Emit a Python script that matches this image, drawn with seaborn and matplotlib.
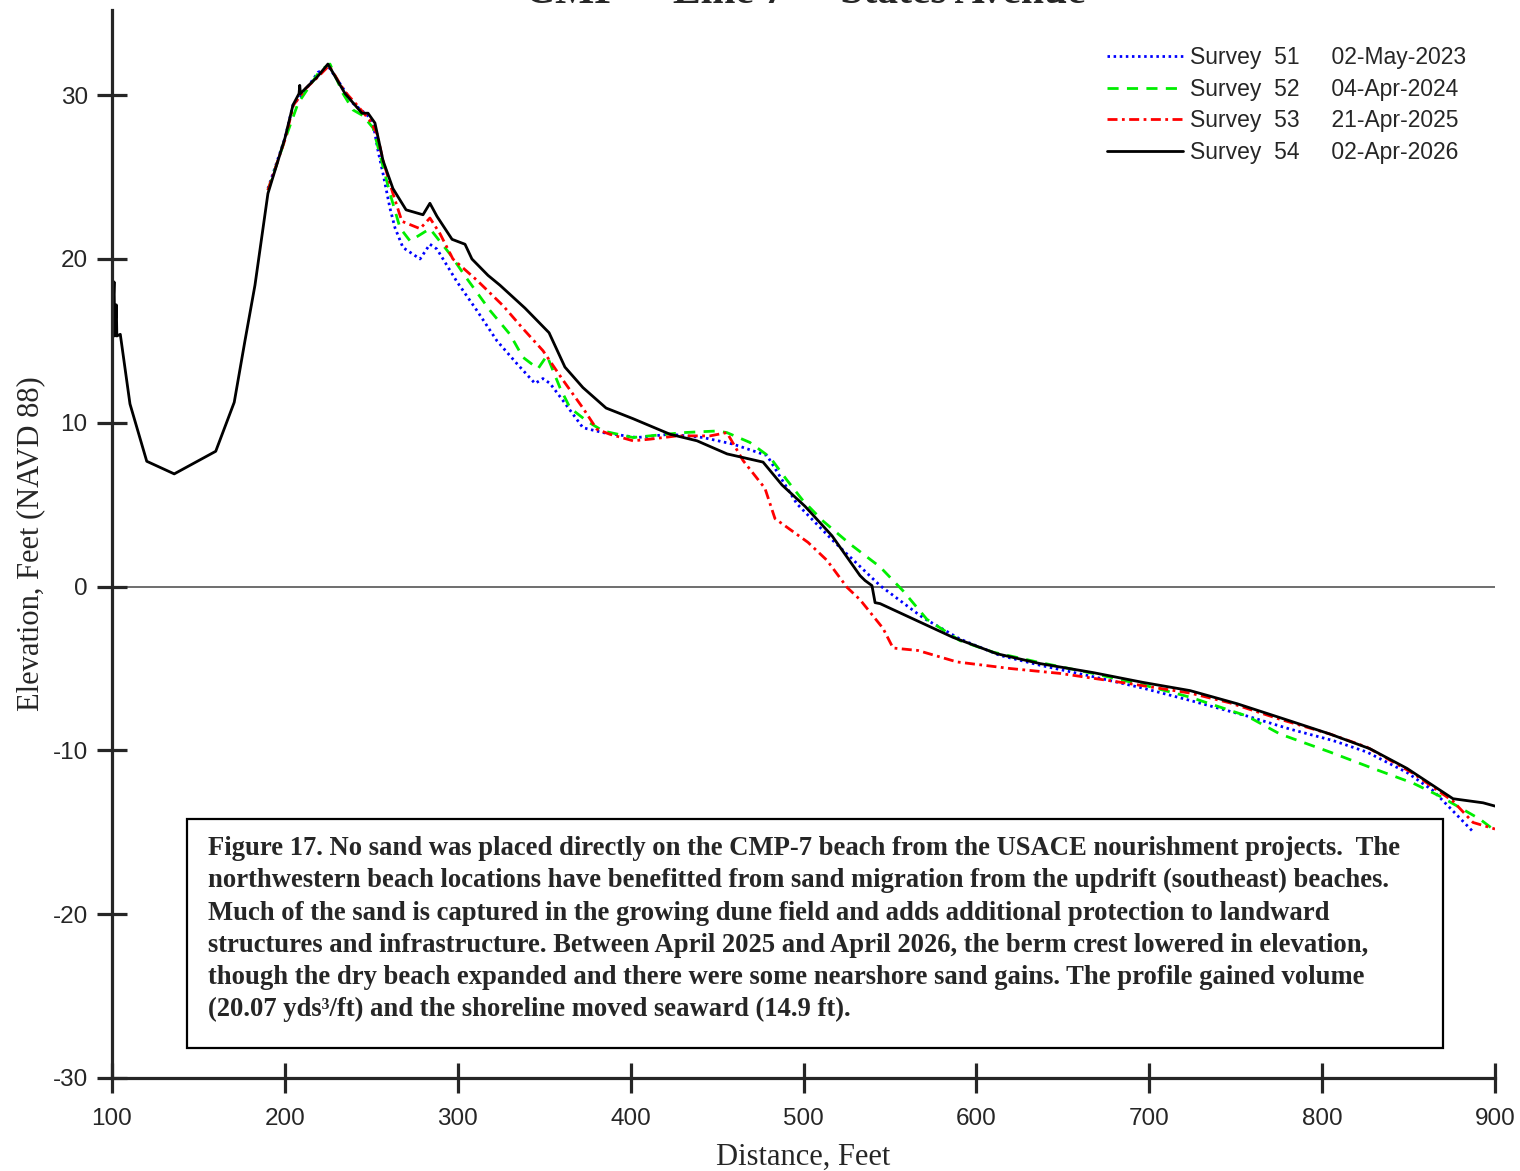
import numpy as np
import pandas as pd
import matplotlib
matplotlib.use("Agg")
import matplotlib.pyplot as plt
import seaborn as sns
from matplotlib.patches import Rectangle

# ---------------- data ----------------
labels = ["Survey  51     02-May-2023", "Survey  52     04-Apr-2024",
          "Survey  53     21-Apr-2025", "Survey  54     02-Apr-2026"]

s51_x = [190.2, 200.1, 204.7, 210.5, 219.2, 225.5, 231.9, 239.4, 247.5, 251.0, 253.9, 256.8,
         260.8, 263.7, 268.3, 278.2, 283.9, 288.0, 299.6, 311.1, 322.7, 334.3, 344.7, 349.3,
         353.4, 360.9, 372.4, 384.0, 403.7, 422.8, 441.9, 459.2, 478.9, 496.2, 517.1, 544.3,
         569.1, 590.5, 613.6, 636.8, 667.5, 696.4, 723.6, 756.5, 781.4, 806.3, 825.9, 849.1,
         864.1, 875.7, 886.7]
s51_y = [24.3, 27.4, 29.4, 30.1, 31.4, 31.7, 30.7, 29.5, 28.8, 28.3, 26.6, 25.2,
         23.1, 21.9, 20.7, 20.0, 20.9, 20.6, 18.6, 16.85, 15.0, 13.6, 12.4, 12.7,
         12.4, 11.35, 9.7, 9.4, 9.1, 9.3, 9.1, 8.7, 8.0, 5.05, 2.8, 0.06,
         -1.9, -3.2, -4.2, -4.8, -5.5, -6.2, -6.95, -7.9, -8.7, -9.4, -10.1, -11.35,
         -12.45, -13.7, -14.9]

s52_x = [190.2, 200.1, 207.6, 220.3, 226.1, 233.6, 239.4, 245.2, 251.0, 260.8, 266.6, 272.4,
         283.9, 295.5, 305.3, 318.7, 330.2, 337.7, 346.4, 351.6, 359.1, 365.0, 374.8, 384.0,
         401.4, 430.3, 450.0, 455.7, 469.0, 480.6, 490.4, 499.7, 511.3, 526.9, 544.3, 557.5,
         571.4, 590.5, 609.6, 635.1, 667.5, 696.4, 723.6, 756.5, 775.6, 804.5, 829.4, 852.6,
         868.2, 879.8, 891.3, 900.0]
s52_y = [24.2, 27.3, 29.5, 31.5, 31.9, 30.1, 29.1, 28.75, 28.0, 24.0, 21.9, 21.1,
         21.85, 20.3, 18.8, 16.85, 15.4, 14.0, 13.3, 14.1, 12.15, 10.9, 10.1, 9.5,
         9.1, 9.4, 9.5, 9.4, 8.8, 7.9, 6.5, 5.25, 4.0, 2.6, 1.2, -0.25,
         -2.0, -3.3, -4.0, -4.6, -5.3, -6.0, -6.75, -7.9, -9.0, -10.1, -11.1, -12.0,
         -12.8, -13.5, -14.2, -14.9]

s53_x = [190.2, 200.1, 205.0, 212.0, 219.0, 225.5, 234.8, 241.7, 249.2, 253.3, 256.8, 262.5,
         267.7, 278.2, 283.9, 289.7, 297.2, 311.1, 326.2, 337.7, 349.3, 360.9, 372.4, 380.5,
         388.0, 401.4, 411.2, 426.8, 445.9, 455.7, 465.0, 477.7, 483.5, 502.6, 513.6, 525.2,
         532.7, 546.0, 551.8, 566.2, 588.8, 619.4, 648.4, 687.1, 723.6, 746.7, 775.6, 804.5,
         825.9, 852.6, 875.7, 887.3, 900.0]
s53_y = [24.2, 27.3, 29.4, 30.4, 31.1, 31.8, 30.2, 29.4, 28.45, 27.65, 26.0, 24.0,
         22.3, 21.85, 22.5, 21.55, 20.0, 18.7, 17.15, 15.75, 14.4, 12.6, 10.9, 9.6,
         9.3, 8.9, 9.0, 9.2, 9.2, 9.4, 7.7, 6.0, 4.15, 2.7, 1.6, -0.05,
         -0.8, -2.55, -3.75, -3.9, -4.6, -5.0, -5.3, -5.9, -6.5, -7.1, -8.1, -9.0,
         -9.8, -11.4, -13.1, -14.4, -14.8]

s54_x = [100.0, 101.2, 101.6, 102.5, 102.8, 104.8, 110.4, 120.1, 136.0, 160.0, 170.7, 176.9,
         182.7, 190.2, 193.1, 200.1, 204.7, 208.2, 208.6, 209.0, 212.8, 218.6, 224.9, 234.8,
         244.6, 248.1, 252.1, 256.8, 262.5, 270.1, 279.9, 283.9, 288.0, 296.7, 304.2, 308.2,
         317.5, 324.4, 338.9, 352.8, 362.0, 372.4, 385.8, 401.4, 422.8, 438.4, 455.8, 476.6,
         487.6, 500.9, 516.5, 532.7, 535.6, 539.6, 541.4, 544.3, 586.5, 611.9, 636.8, 667.5,
         696.4, 723.6, 750.8, 781.4, 804.5, 827.7, 849.1, 875.7, 893.1, 900.0]
s54_y = [15.2, 18.6, 15.3, 17.2, 15.3, 15.4, 11.15, 7.65, 6.88, 8.26, 11.25, 15.0,
         18.4, 24.0, 25.0, 27.4, 29.4, 30.1, 30.6, 30.1, 30.5, 31.1, 31.9, 30.1,
         28.9, 28.9, 28.3, 26.0, 24.3, 23.0, 22.7, 23.4, 22.6, 21.2, 20.9, 20.0,
         19.0, 18.4, 17.0, 15.5, 13.4, 12.15, 10.9, 10.25, 9.3, 8.9, 8.1, 7.6,
         6.2, 4.9, 3.1, 0.67, 0.37, 0.06, -0.98, -1.04, -3.1, -4.1, -4.7, -5.25,
         -5.85, -6.35, -7.15, -8.2, -9.0, -9.9, -11.1, -12.95, -13.2, -13.4]

x_ticks = [100, 200, 300, 400, 500, 600, 700, 800, 900]
y_ticks = [-30, -20, -10, 0, 10, 20, 30]

caption = ("Figure 17. No sand was placed directly on the CMP-7 beach from the USACE nourishment projects.  The\n"
           "northwestern beach locations have benefitted from sand migration from the updrift (southeast) beaches.\n"
           "Much of the sand is captured in the growing dune field and adds additional protection to landward\n"
           "structures and infrastructure. Between April 2025 and April 2026, the berm crest lowered in elevation,\n"
           "though the dry beach expanded and there were some nearshore sand gains. The profile gained volume\n"
           "(20.07 yds\u00b3/ft) and the shoreline moved seaward (14.9 ft).")

# ---------------- style ----------------
sns.set_style("white")
plt.rcParams["font.family"] = ["Liberation Sans", "DejaVu Sans"]
SERIF = ["Liberation Serif", "DejaVu Serif"]
AX = "#262626"

fig = plt.figure(figsize=(15.2, 11.71), dpi=100)
ax = fig.add_axes([112 / 1520, 1 - 1078 / 1171, (1495 - 112) / 1520, (1078 - 10) / 1171])

series = [
    (s51_x, s51_y, "#0000ff", (0, (0.9, 1.3))),
    (s52_x, s52_y, "#00ee00", (0, (4.0, 3.0))),
    (s53_x, s53_y, "#ff0000", (0, (3.6, 1.6, 1.0, 1.6))),
    (s54_x, s54_y, "#000000", "-"),
]
for (xs, ys, col, ls), lab in zip(series, labels):
    df = pd.DataFrame({"x": xs, "y": ys})
    sns.lineplot(data=df, x="x", y="y", ax=ax, sort=False, estimator=None,
                 color=col, linewidth=2.0, linestyle=ls, label=lab)

ax.axhline(0, color="#555555", linewidth=1.2, zorder=0)

ax.set_xlim(100, 900)
ax.set_ylim(-30, 35.2)
ax.set_xticks(x_ticks)
ax.set_yticks(y_ticks)
ax.set_xticklabels([str(v) for v in x_ticks])
ax.set_yticklabels([str(v) for v in y_ticks])

for s in ["top", "right"]:
    ax.spines[s].set_visible(False)
for s in ["left", "bottom"]:
    ax.spines[s].set_color(AX)
    ax.spines[s].set_linewidth(2.3)
ax.tick_params(axis="both", direction="inout", length=21, width=2.3, color=AX,
               labelcolor=AX, labelsize=17.5, bottom=True, left=True,
               top=False, right=False)
ax.tick_params(axis="x", pad=11)
ax.tick_params(axis="y", pad=7)

ax.set_xlabel("Distance, Feet", family=SERIF, fontsize=22, color=AX, labelpad=9)
ax.set_ylabel("Elevation, Feet (NAVD 88)", family=SERIF, fontsize=22, color=AX, labelpad=5)

leg = ax.legend(loc="upper right", bbox_to_anchor=(1466 / 1520, 1 - 46 / 1171),
                bbox_transform=fig.transFigure, frameon=False, fontsize=16.5,
                handlelength=3.3, handletextpad=0.3, labelspacing=0.38,
                borderpad=0, borderaxespad=0)

# Caption box
fig.patches.append(Rectangle((187 / 1520, 1 - 1048 / 1171), (1443 - 187) / 1520,
                             (1048 - 819) / 1171, transform=fig.transFigure,
                             fill=True, facecolor="white", edgecolor="black",
                             linewidth=1.6, zorder=5))
fig.text(208 / 1520, 1 - 836 / 1171, caption, family=SERIF, fontweight="bold",
         fontsize=19.2, va="top", ha="left", linespacing=1.38, zorder=6)

# Title (clipped at top edge as in reference)
fig.text(805 / 1520, 1 - 3 / 1171, "CMP  -  Line 7  -  States Avenue", family=SERIF,
         fontweight="bold", fontsize=30, ha="center", va="baseline")

fig.savefig("out.png", dpi=100)
